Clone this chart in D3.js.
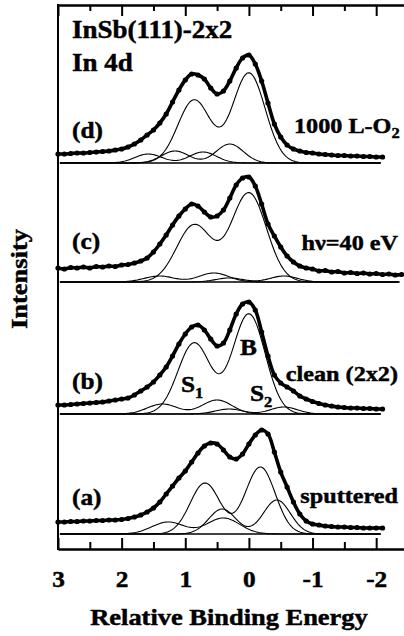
<!DOCTYPE html>
<html>
<head>
<meta charset="utf-8">
<script src="https://cdn.jsdelivr.net/npm/d3@7"></script>
<style>
body { margin: 0; background: #fff; }
text { font-family: "Liberation Serif", "Times New Roman", serif; font-weight: bold; fill: #000; stroke: #000; stroke-width: 0.45px; }
</style>
</head>
<body>
<svg width="404" height="636"></svg>
<script>
// binding energy grid (eV, relative)
var energy = [3.0, 2.9, 2.8, 2.7, 2.6, 2.5, 2.4, 2.3, 2.2, 2.1, 2.0,
    1.9, 1.8, 1.7, 1.6, 1.5, 1.4, 1.3, 1.2, 1.1, 1.0,
    0.9, 0.8, 0.7, 0.6, 0.5, 0.4, 0.3, 0.2, 0.1, 0.0,
    -0.1, -0.2, -0.3, -0.4, -0.5, -0.6, -0.7, -0.8, -0.9, -1.0,
    -1.1, -1.2, -1.3, -1.4, -1.5, -1.6, -1.7, -1.8, -1.9, -2.0,
    -2.1, -2.2, -2.3, -2.4];

// measured spectra, intensity above each fit baseline (arb. units)
var dataA = [12, 12, 12.5, 12.5, 13, 13, 13.5, 13.5, 14, 14, 14.5,
    15.5, 17, 19, 22, 26, 32, 40, 48, 56, 63,
    72, 81, 88, 91, 90, 84, 77, 75, 80, 90,
    99, 104, 100, 82, 62, 47, 32, 20, 13, 10,
    9, 8, 7.5, 7, 7, 6.5, 6.5, 6, 6, 6, 6];
var dataB = [9, 9, 9.5, 10, 10.5, 11, 11.5, 12, 13, 14, 15,
    16, 19, 23, 27, 32, 39, 47, 58, 70, 80,
    87, 89, 84, 75, 68, 71, 84, 100, 110, 112,
    104, 82, 58, 39, 31, 27, 23, 18, 15, 12.5,
    10.5, 9, 8, 7, 6.5, 6, 6, 5.5, 5.5, 5, 5];
var dataC = [14, 13, 14.5, 14, 15, 14, 15.5, 15, 16, 15.5, 17,
    17.5, 19, 21, 24, 30, 38, 47, 57, 66, 73,
    78, 76, 70, 65, 66, 72, 84, 97, 104, 105,
    96, 78, 58, 46, 35, 26, 20, 16, 14, 13,
    11, 11.5, 10, 10.5, 9, 9.5, 8.5, 9, 8, 8.5, 7.5, 8, 7, 7.5];
var dataD = [9, 9, 9.5, 10, 10, 10.5, 11, 11.5, 12, 13, 14,
    16, 19, 23, 28, 33, 40, 49, 61, 73, 83,
    89, 88, 84, 75, 69, 72, 82, 95, 105, 108,
    99, 82, 60, 39, 26, 18, 14, 12, 10.5, 10,
    9, 8.5, 8, 7.5, 7.5, 7, 7, 6.5, 6.5, 6, 6];

// fitted spin-orbit doublets: [pos 5/2, height, pos 3/2, height, fwhm]
var compsA = [[-0.18, 67, 0.69, 51, 0.55], [-0.44, 34, 0.42, 25, 0.5], [0.40, 16, 1.27, 12, 0.6]];
var compsB = [[0.0, 100, 0.86, 71, 0.6], [0.50, 14, 1.36, 10, 0.55], [-0.55, 7, 0.31, 5, 0.5]];
var compsC = [[0.0, 89, 0.86, 57, 0.65], [0.55, 9, 1.41, 6, 0.55], [-0.55, 6, 0.31, 4, 0.5]];
var compsD = [[0.0, 90, 0.86, 63, 0.6], [0.30, 19, 1.16, 12, 0.5], [0.72, 11, 1.58, 9, 0.5]];

// vertical offset of each spectrum in the stack
var offsets = [15, 135, 267, 386];

var panelNames = ["(a)", "(b)", "(c)", "(d)"];
var conditions = ["sputtered", "clean (2x2)", "h\u03bd=40 eV", "1000 L-O"];

var xTicks = [3, 2, 1, 0, -1, -2],
    xMinor = [2.5, 1.5, 0.5, -0.5, -1.5];

var svg = d3.select("svg"),
    plotLeft = 58, plotTop = 5, plotBottom = 549, plotRight = 408;

svg.append("rect").attr("width", 404).attr("height", 636).attr("fill", "#fff");

var x = d3.scaleLinear()
    .domain([3, -2.5])
    .range([plotLeft, plotRight]);

var y = d3.scaleLinear()
    .domain([0, 544])
    .range([plotBottom, plotTop]);

var spectra = [dataA, dataB, dataC, dataD],
    comps = [compsA, compsB, compsC, compsD];

function doublet(c, e) {
    var k = 4 * Math.LN2 / (c[4] * c[4]);
    return c[1] * Math.exp(-k * (e - c[0]) * (e - c[0])) +
           c[3] * Math.exp(-k * (e - c[2]) * (e - c[2]));
}

var g = svg.append("g");

spectra.forEach(function(data, p) {
    var off = offsets[p];
    var pts = data.map(function(v, i) { return [energy[i], v]; });
    var e0 = pts[0][0] - 0.03, e1 = pts[pts.length - 1][0] + 0.03;

    // fit baseline
    g.append("line")
        .attr("x1", x(e0)).attr("x2", x(e1))
        .attr("y1", y(off)).attr("y2", y(off))
        .attr("stroke", "#000").attr("stroke-width", 1.4);

    // components
    var grid = d3.range(e0, e1, -0.02);
    comps[p].forEach(function(c) {
        var line = d3.line()
            .x(function(e) { return x(e); })
            .y(function(e) { return y(off + doublet(c, e)); });
        g.append("path")
            .datum(grid)
            .attr("d", line)
            .attr("fill", "none")
            .attr("stroke", "#000")
            .attr("stroke-width", 1.1);
    });

    // data
    var dline = d3.line()
        .x(function(d) { return x(d[0]); })
        .y(function(d) { return y(off + d[1]); })
        .curve(d3.curveCatmullRom);
    g.append("path")
        .datum(pts)
        .attr("d", dline)
        .attr("fill", "none")
        .attr("stroke", "#000")
        .attr("stroke-width", 3.6);
    g.selectAll(null)
        .data(pts)
      .enter().append("circle")
        .attr("cx", function(d) { return x(d[0]); })
        .attr("cy", function(d) { return y(off + d[1]); })
        .attr("r", 2.6)
        .attr("fill", "#000");
});

// frame and ticks
function styleAxis(sel) {
    sel.select(".domain").attr("stroke-width", 2);
    sel.selectAll(".tick line").attr("stroke-width", 2);
}

svg.append("g")
    .attr("transform", "translate(0," + plotBottom + ")")
    .call(d3.axisBottom(x).tickValues(xTicks).tickSizeInner(-11).tickSizeOuter(0)
        .tickFormat(function(d) { return String(d); }))
    .call(styleAxis)
    .call(function(sel) {
        sel.selectAll("text")
            .attr("y", 38).attr("dy", null)
            .attr("transform", "scale(1.1,1)")
            .style("font-size", "23px")
            .style("font-family", "'Liberation Serif', serif")
            .style("font-weight", "bold");
    });
svg.append("g")
    .attr("transform", "translate(0," + plotBottom + ")")
    .call(d3.axisBottom(x).tickValues(xMinor).tickSizeInner(-7).tickSizeOuter(0).tickFormat(""))
    .call(styleAxis);
svg.append("g")
    .attr("transform", "translate(0," + plotTop + ")")
    .call(d3.axisTop(x).tickValues(xTicks).tickSizeInner(-11).tickSizeOuter(0).tickFormat(""))
    .call(styleAxis);
svg.append("g")
    .attr("transform", "translate(0," + plotTop + ")")
    .call(d3.axisTop(x).tickValues(xMinor).tickSizeInner(-6).tickSizeOuter(0).tickFormat(""))
    .call(styleAxis);
svg.append("line")
    .attr("x1", plotLeft).attr("x2", plotLeft)
    .attr("y1", plotTop - 1).attr("y2", plotBottom + 1)
    .attr("stroke", "#000").attr("stroke-width", 2);

// labels
function label(px, py, str, anchor, size) {
    return svg.append("text")
        .attr("transform", "translate(" + px + "," + py + ") scale(1.1,1)")
        .attr("text-anchor", anchor || "start")
        .style("font-size", (size || 22) + "px")
        .text(str);
}

label(72, 38, "InSb(111)-2x2", "start", 24.5);
label(72, 71, "In 4d", "start", 24.5);

var nameY = [505, 389, 249, 138],
    condY = [503, 381, 250, 133];
panelNames.forEach(function(n, i) { label(72, nameY[i], n, "start", 23); });
conditions.forEach(function(c, i) {
    if (i === 3) {
        var t = label(294, condY[i], c, "start");
        t.append("tspan").attr("dy", 5).style("font-size", "15px").text("2");
    } else {
        label(398, condY[i], c, "end");
    }
});

label(240, 355, "B", "start", 23);
var s1 = label(181, 392, "S", "start", 23);
s1.append("tspan").attr("dy", 6).style("font-size", "15px").text("1");
var s2 = label(250, 401, "S", "start", 23);
s2.append("tspan").attr("dy", 6).style("font-size", "15px").text("2");

svg.append("text")
    .attr("transform", "translate(27,279) rotate(-90) scale(1.15,1)")
    .attr("text-anchor", "middle")
    .style("font-size", "23px")
    .text("Intensity");

svg.append("text")
    .attr("transform", "translate(229,625) scale(1.15,1)")
    .attr("text-anchor", "middle")
    .style("font-size", "23px")
    .text("Relative Binding Energy");
</script>
</body>
</html>
